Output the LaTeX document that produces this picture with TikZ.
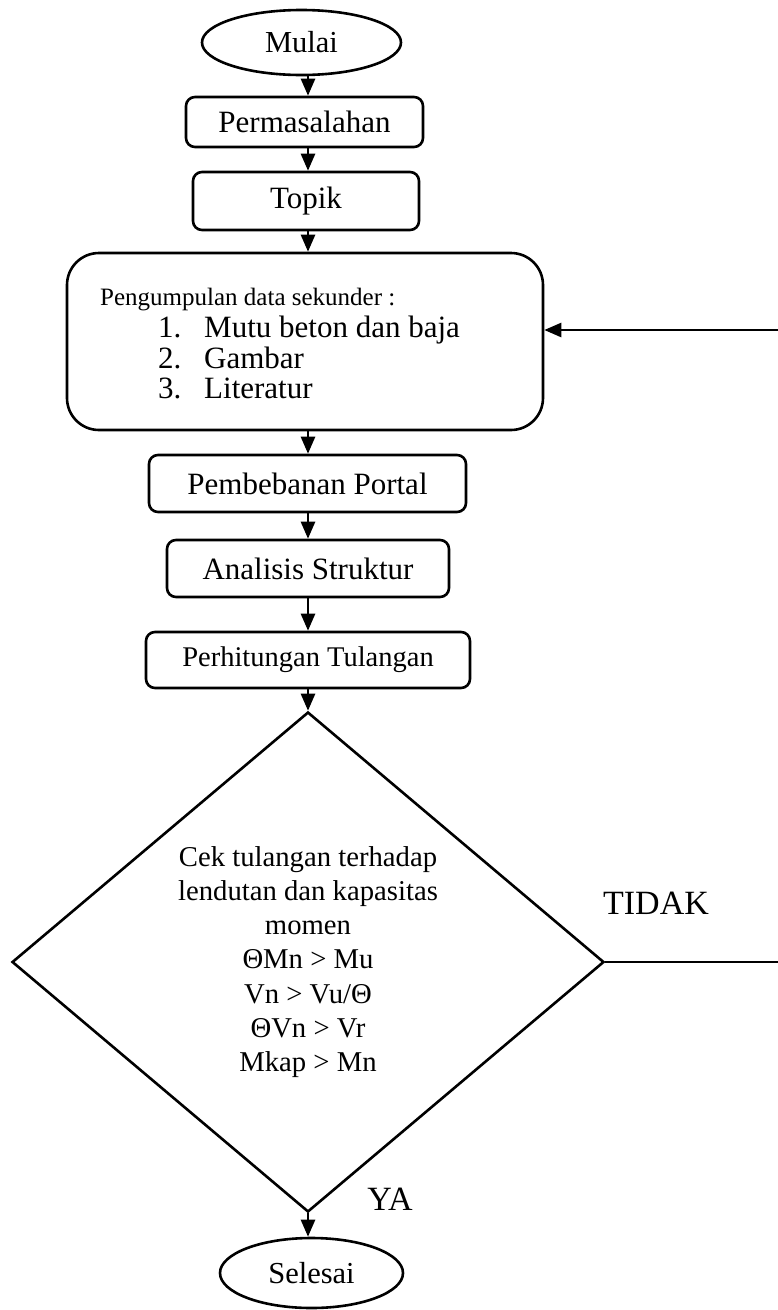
\documentclass[tikz,border=0pt]{standalone}
\usepackage{fontspec}
\setmainfont{Liberation Serif}
\usetikzlibrary{arrows.meta,shapes.geometric}
\begin{document}
\begin{tikzpicture}[x=1pt,y=-1pt,
  every node/.style={font=\fontsize{31}{37}\selectfont},
  line/.style={line width=2.6pt},
  arr/.style={line width=2.6pt,-{Triangle[length=17pt,width=14pt]}},
  proc/.style={draw,line width=2.6pt,rounded corners=9pt,inner sep=0pt},
  term/.style={draw,line width=2.6pt,ellipse,inner sep=0pt,font=\fontsize{30.5}{36}\selectfont},
  lbl/.style={inner sep=0pt,anchor=base west},
  tag/.style={font=\fontsize{34}{40}\selectfont,inner sep=0pt}
]
\useasboundingbox (0,0) rectangle (778,1310);
\coordinate (ax) at (308,0);
\node[term,minimum width=199pt,minimum height=65pt] (mulai) at (301.5,42.5) {Mulai};
\node[proc,minimum width=237pt,minimum height=50pt] (perm) at (304.5,122) {Permasalahan};
\node[proc,minimum width=226pt,minimum height=58pt] (topik) at (306,201) {Topik};
\node[proc,rounded corners=32pt,minimum width=476pt,minimum height=177pt] (data) at (305,341.5) {};
\node[lbl,font=\fontsize{25}{30}\selectfont] (d0) at (100,305) {Pengumpulan data sekunder :};
\node[lbl] (n1) at (158,337) {1.};
\node[lbl] (i1) at (204,337) {Mutu beton dan baja};
\node[lbl] (n2) at (158,368) {2.};
\node[lbl] (i2) at (204,368) {Gambar};
\node[lbl] (n3) at (158,398) {3.};
\node[lbl] (i3) at (204,398) {Literatur};
\node[proc,minimum width=317pt,minimum height=57pt] (beban) at (307.5,483.5) {Pembebanan Portal};
\node[proc,minimum width=282pt,minimum height=57pt] (analisis) at (308,568.5) {Analisis Struktur};
\node[proc,minimum width=324pt,minimum height=56pt,font=\fontsize{28.5}{34}\selectfont] (tulangan) at (308,660) {Perhitungan Tulangan};
\node[draw,line width=2.6pt,diamond,inner sep=0pt,minimum width=592pt,minimum height=500pt,align=center,font=\fontsize{28.7}{34.3}\selectfont] (cek) at (308,962)
  {Cek tulangan terhadap\\lendutan dan kapasitas\\momen\\ΘMn > Mu\\Vn > Vu/Θ\\ΘVn > Vr\\Mkap > Mn};
\node[term,minimum width=183pt,minimum height=70pt] (selesai) at (311.5,1273) {Selesai};
\node[tag] (tidak) at (656,903) {TIDAK};
\node[tag] (ya) at (390,1199) {YA};
\coordinate (r1) at (778,330);
\coordinate (r2) at (778,962);
\draw[arr] (mulai.south -| ax) -- (perm.north -| ax);
\draw[arr] (perm.south -| ax) -- (topik.north -| ax);
\draw[arr] (topik.south -| ax) -- (data.north -| ax);
\draw[arr] (data.south -| ax) -- (beban.north -| ax);
\draw[arr] (beban.south -| ax) -- (analisis.north -| ax);
\draw[arr] (analisis.south -| ax) -- (tulangan.north -| ax);
\draw[arr] (tulangan.south -| ax) -- (cek.north);
\draw[arr] (r1) -- (r1 -| data.east);
\draw[line] (cek.east) -- (r2);
\draw[arr] (cek.south) -- (selesai.north -| cek.south);
\end{tikzpicture}
\end{document}
